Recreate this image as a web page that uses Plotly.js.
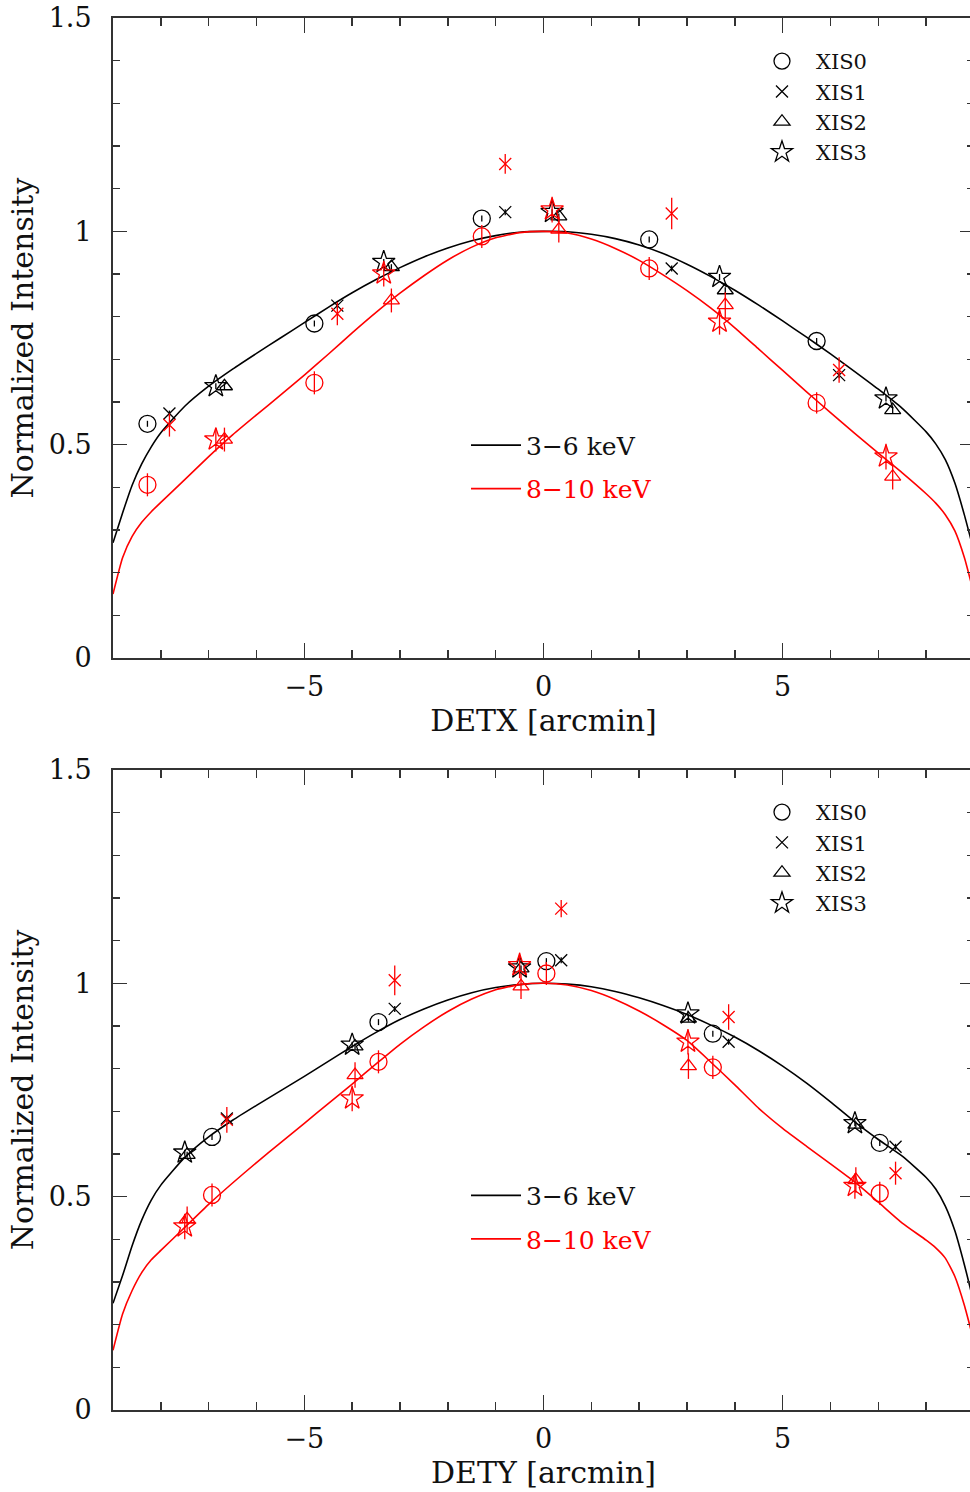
<!DOCTYPE html>
<html>
<head>
<meta charset="utf-8">
<script src="https://cdn.plot.ly/plotly-3.0.1.min.js"></script>
<style>
  html, body { margin: 0; padding: 0; background: #fff; overflow: hidden; }
  #chart { width: 976px; height: 1492px; }
</style>
</head>
<body>
<div id="chart"></div>
<script>
// ---- Model curves (normalized intensity vs. detector offset, arcmin) ----
const curveX = [-9.0, -8.8, -8.6, -8.4, -8.2, -8.0, -7.5, -7.0, -6.5, -6.0, -5.5, -5.0, -4.5, -4.0, -3.5, -3.0, -2.5, -2.0, -1.5, -1.0, -0.5, 0.0,
                 0.5, 1.0, 1.5, 2.0, 2.5, 3.0, 3.5, 4.0, 4.5, 5.0, 5.5, 6.0, 6.5, 7.0, 7.5, 8.0, 8.2, 8.4, 8.6, 8.8, 9.0];

const detxSoftModel = [0.27, 0.34, 0.405, 0.455, 0.495, 0.528, 0.590, 0.637, 0.677, 0.714, 0.750, 0.786, 0.822, 0.856, 0.887, 0.915, 0.940, 0.961, 0.978, 0.990, 0.998, 1.000,
                       0.999, 0.993, 0.983, 0.968, 0.948, 0.923, 0.894, 0.862, 0.827, 0.790, 0.752, 0.713, 0.672, 0.630, 0.585, 0.530, 0.502, 0.465, 0.410, 0.335, 0.250];
const detxHardModel = [0.15, 0.235, 0.285, 0.318, 0.343, 0.365, 0.418, 0.472, 0.523, 0.570, 0.616, 0.663, 0.712, 0.762, 0.810, 0.855, 0.896, 0.933, 0.963, 0.985, 0.997, 1.000,
                       0.996, 0.982, 0.960, 0.932, 0.898, 0.861, 0.820, 0.774, 0.724, 0.674, 0.624, 0.575, 0.527, 0.480, 0.434, 0.385, 0.363, 0.336, 0.298, 0.235, 0.150];
const detySoftModel = [0.25, 0.315, 0.385, 0.445, 0.492, 0.527, 0.592, 0.640, 0.679, 0.714, 0.748, 0.782, 0.817, 0.852, 0.885, 0.915, 0.940, 0.961, 0.978, 0.990, 0.997, 1.000,
                       0.998, 0.992, 0.981, 0.966, 0.948, 0.927, 0.902, 0.874, 0.842, 0.806, 0.766, 0.722, 0.676, 0.634, 0.595, 0.545, 0.518, 0.478, 0.420, 0.340, 0.250];
const detyHardModel = [0.14, 0.225, 0.280, 0.322, 0.352, 0.374, 0.428, 0.482, 0.532, 0.580, 0.626, 0.672, 0.718, 0.764, 0.811, 0.857, 0.898, 0.934, 0.963, 0.985, 0.997, 1.000,
                       0.996, 0.983, 0.962, 0.935, 0.903, 0.866, 0.815, 0.762, 0.707, 0.660, 0.618, 0.577, 0.535, 0.487, 0.438, 0.398, 0.380, 0.356, 0.313, 0.245, 0.160];

// ---- Measured points, DETX scan ----
const detxXis0X = [-8.28, -4.79, -1.29, 2.21, 5.71];
const detxXis0Soft = [0.549, 0.784, 1.030, 0.981, 0.743];
const detxXis0Hard = [0.406, 0.645, 0.988, 0.913, 0.598];
const detxXis0HardErr = [0.027, 0.027, 0.027, 0.027, 0.025];

const detxXis1X = [-7.82, -4.31, -0.80, 2.68, 6.18];
const detxXis1Soft = [0.573, 0.826, 1.045, 0.913, 0.663];
const detxXis1Hard = [0.546, 0.807, 1.158, 1.042, 0.675];
const detxXis1HardErr = [0.027, 0.027, 0.023, 0.037, 0.030];

const detxXis2X = [-6.67, -3.18, 0.32, 3.80, 7.30];
const detxXis2Soft = [0.637, 0.916, 1.035, 0.862, 0.581];
const detxXis2Hard = [0.512, 0.838, 1.004, 0.827, 0.425];
const detxXis2HardErr = [0.028, 0.028, 0.030, 0.030, 0.030];

const detxXis3X = [-6.85, -3.34, 0.18, 3.68, 7.16];
const detxXis3Soft = [0.637, 0.928, 1.045, 0.893, 0.608];
const detxXis3Hard = [0.512, 0.901, 1.051, 0.788, 0.472];
const detxXis3HardErr = [0.028, 0.030, 0.030, 0.030, 0.030];

// ---- Measured points, DETY scan ----
const detyXis0X = [-6.93, -3.45, 0.06, 3.54, 7.03];
const detyXis0Soft = [0.640, 0.909, 1.052, 0.882, 0.626];
const detyXis0Hard = [0.504, 0.816, 1.023, 0.803, 0.508];
const detyXis0HardErr = [0.027, 0.027, 0.027, 0.027, 0.027];

const detyXis1X = [-6.62, -3.11, 0.37, 3.87, 7.36];
const detyXis1Soft = [0.683, 0.940, 1.054, 0.863, 0.617];
const detyXis1Hard = [0.680, 1.007, 1.175, 0.921, 0.555];
const detyXis1HardErr = [0.030, 0.035, 0.020, 0.030, 0.027];

const detyXis2X = [-7.45, -3.94, -0.47, 3.03, 6.53];
const detyXis2Soft = [0.598, 0.852, 1.035, 0.917, 0.669];
const detyXis2Hard = [0.447, 0.785, 0.993, 0.806, 0.539];
const detyXis2HardErr = [0.030, 0.030, 0.030, 0.030, 0.030];

const detyXis3X = [-7.50, -4.00, -0.50, 3.02, 6.51];
const detyXis3Soft = [0.603, 0.856, 1.037, 0.929, 0.672];
const detyXis3Hard = [0.430, 0.730, 1.042, 0.863, 0.525];
const detyXis3HardErr = [0.030, 0.030, 0.030, 0.030, 0.030];

const softErr = 0.007;
const detectorNames = ['XIS0', 'XIS1', 'XIS2', 'XIS3'];
const bandNames = ['3\u22126 keV', '8\u221210 keV'];

// ---- Styling ----
const BLACK = '#000000';
const RED = '#ff0000';
const FONT = 'DejaVu Serif, Liberation Serif, serif';
const symbols = {
  XIS0: { symbol: 'circle-open', size: 17 },
  XIS1: { symbol: 'x-thin-open', size: 12 },
  XIS2: { symbol: 'triangle-up-open', size: 14 },
  XIS3: { symbol: 'star-open', size: 17 }
};

function pointTrace(name, x, y, err, color, xa, ya, legendId, showInLegend) {
  const s = symbols[name];
  return {
    type: 'scatter', mode: 'markers', name: name,
    x: x, y: y, xaxis: xa, yaxis: ya,
    legend: legendId, showlegend: showInLegend,
    marker: { symbol: s.symbol, size: s.size, color: color, line: { color: color, width: 1.3 } },
    error_y: { type: 'data', array: err, visible: true, color: color, thickness: 1.3, width: 0 },
    hoverinfo: 'x+y'
  };
}

function curveTrace(name, y, color, xa, ya, legendId, group) {
  return {
    type: 'scatter', mode: 'lines', name: name,
    x: curveX, y: y, xaxis: xa, yaxis: ya,
    legend: legendId, legendgroup: group, showlegend: true,
    line: { color: color, width: 1.6, shape: 'spline', smoothing: 0.5 },
    hoverinfo: 'x+y'
  };
}

function fill(n, v) { return new Array(n).fill(v); }

const redLabel = '<span style="color:' + RED + '">' + bandNames[1] + '</span>';

const panels = [
  {
    xa: 'x', ya: 'y', markLegend: 'legend', lineLegend: 'legend2',
    softModel: detxSoftModel, hardModel: detxHardModel,
    sets: [
      [detxXis0X, detxXis0Soft, detxXis0Hard, detxXis0HardErr],
      [detxXis1X, detxXis1Soft, detxXis1Hard, detxXis1HardErr],
      [detxXis2X, detxXis2Soft, detxXis2Hard, detxXis2HardErr],
      [detxXis3X, detxXis3Soft, detxXis3Hard, detxXis3HardErr]
    ]
  },
  {
    xa: 'x2', ya: 'y2', markLegend: 'legend3', lineLegend: 'legend4',
    softModel: detySoftModel, hardModel: detyHardModel,
    sets: [
      [detyXis0X, detyXis0Soft, detyXis0Hard, detyXis0HardErr],
      [detyXis1X, detyXis1Soft, detyXis1Hard, detyXis1HardErr],
      [detyXis2X, detyXis2Soft, detyXis2Hard, detyXis2HardErr],
      [detyXis3X, detyXis3Soft, detyXis3Hard, detyXis3HardErr]
    ]
  }
];

const traces = [];
panels.forEach(p => {
  traces.push(curveTrace(bandNames[0], p.softModel, BLACK, p.xa, p.ya, p.lineLegend, 'soft'));
  traces.push(curveTrace(redLabel, p.hardModel, RED, p.xa, p.ya, p.lineLegend, 'hard'));
  p.sets.forEach((s, i) => {
    traces.push(pointTrace(detectorNames[i], s[0], s[1], fill(s[0].length, softErr), BLACK, p.xa, p.ya, p.markLegend, true));
  });
  p.sets.forEach((s, i) => {
    traces.push(pointTrace(detectorNames[i], s[0], s[2], s[3], RED, p.xa, p.ya, p.markLegend, false));
  });
});

function xAxis(title, anchor) {
  return {
    anchor: anchor, domain: [0, 1], range: [-9, 9],
    tick0: 0, dtick: 5, ticks: 'inside', ticklen: 15, tickwidth: 1.5, tickcolor: '#333',
    showline: true, linecolor: '#333', linewidth: 2, mirror: 'allticks',
    showgrid: false, zeroline: false, ticklabelstandoff: 4,
    tickfont: { family: FONT, size: 27, color: '#111' },
    minor: { dtick: 1, tick0: 0, ticks: 'inside', ticklen: 8, tickwidth: 1.5, tickcolor: '#333', showgrid: false },
    title: { text: title, font: { family: FONT, size: 30, color: '#111' }, standoff: 9 }
  };
}
function yAxis(domain, anchor) {
  return {
    anchor: anchor, domain: domain, range: [0, 1.5],
    tick0: 0, dtick: 0.5, ticks: 'inside', ticklen: 14, tickwidth: 1.5, tickcolor: '#333',
    showline: true, linecolor: '#333', linewidth: 2, mirror: 'allticks',
    showgrid: false, zeroline: false, ticklabelstandoff: 14,
    tickfont: { family: FONT, size: 27, color: '#111' },
    minor: { dtick: 0.1, tick0: 0, ticks: 'inside', ticklen: 7, tickwidth: 1.5, tickcolor: '#333', showgrid: false },
    title: { text: 'Normalized Intensity', font: { family: FONT, size: 30, color: '#111' }, standoff: 6 }
  };
}

const markLegendStyle = {
  xanchor: 'left', yanchor: 'top', bgcolor: 'rgba(0,0,0,0)', borderwidth: 0,
  font: { family: FONT, size: 21, color: '#111' }, itemwidth: 58, tracegroupgap: 0
};
const lineLegendStyle = {
  xanchor: 'left', yanchor: 'top', bgcolor: 'rgba(0,0,0,0)', borderwidth: 0,
  font: { family: FONT, size: 25, color: '#111' }, itemwidth: 50,
  traceorder: 'grouped', tracegroupgap: 8
};

const layout = {
  width: 976, height: 1492,
  margin: { l: 113, r: 2, t: 18, b: 82 },
  paper_bgcolor: '#ffffff', plot_bgcolor: '#ffffff',
  font: { family: FONT, size: 27, color: '#111' },
  showlegend: true,
  xaxis: xAxis('DETX [arcmin]', 'y'),
  yaxis: yAxis([0.5402, 1], 'x'),
  xaxis2: xAxis('DETY [arcmin]', 'y2'),
  yaxis2: yAxis([0, 0.4598], 'x2'),
  legend: Object.assign({ x: 0.7375, y: 0.9835 }, markLegendStyle),
  legend2: Object.assign({ x: 0.410, y: 0.7095 }, lineLegendStyle),
  legend3: Object.assign({ x: 0.7375, y: 0.444 }, markLegendStyle),
  legend4: Object.assign({ x: 0.410, y: 0.1705 }, lineLegendStyle),
  hovermode: false
};

Plotly.newPlot('chart', traces, layout, { displayModeBar: false, staticPlot: true });
</script>
</body>
</html>
